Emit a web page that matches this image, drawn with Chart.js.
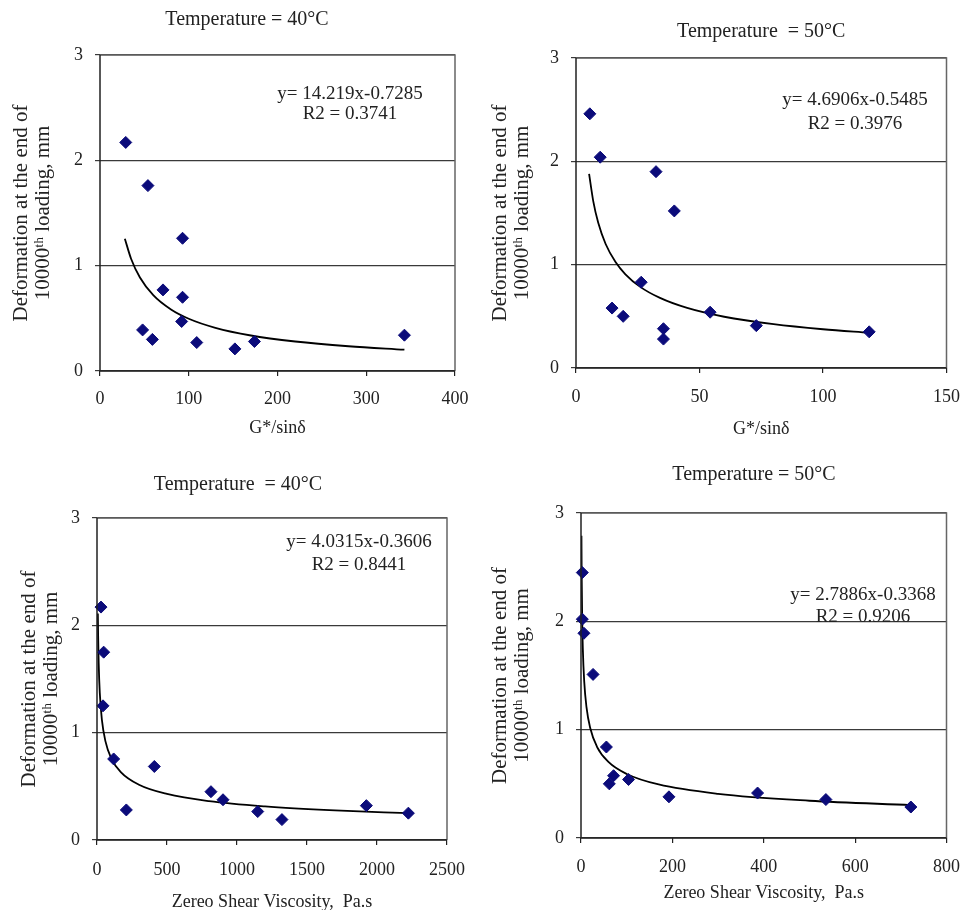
<!DOCTYPE html>
<html><head><meta charset="utf-8">
<script src="https://cdn.jsdelivr.net/npm/chart.js@4.4.1/dist/chart.umd.min.js"></script>
<style>
html,body{margin:0;padding:0;background:#fff;overflow:hidden;}
#wrap{position:relative;width:973px;height:910px;background:#fff;}
canvas{position:absolute;}
</style></head><body>
<div id="wrap">
<canvas id="c1" width="486" height="455" style="left:0px;top:0px"></canvas>
<canvas id="c2" width="486" height="455" style="left:487px;top:0px"></canvas>
<canvas id="c3" width="486" height="455" style="left:0px;top:455px"></canvas>
<canvas id="c4" width="486" height="455" style="left:487px;top:455px"></canvas>
</div>
<script>
// ---------- data ----------
const yTickValues = [0, 1, 2, 3];
const yTitleLines = ['Deformation at the end of', '10000ᵗʰ loading, mm'];

// Panel 1: G*/sin(delta), 40 C
const p1Title = 'Temperature = 40°C';
const p1XTitle = 'G*/sinδ';
const p1XTicks = [0, 100, 200, 300, 400];
const p1X = [29, 54, 93, 71, 93, 92, 48, 59, 109, 152, 174, 343];
const p1Y = [2.17, 1.76, 1.26, 0.77, 0.70, 0.47, 0.39, 0.30, 0.27, 0.21, 0.28, 0.34];
const p1TrendX = [28, 35, 45, 60, 80, 100, 130, 170, 220, 280, 343];
const p1TrendY = [1.256, 1.066, 0.888, 0.720, 0.584, 0.496, 0.410, 0.337, 0.280, 0.235, 0.202];
const p1Eq = ['y= 14.219x-0.7285', 'R2 = 0.3741'];

// Panel 2: G*/sin(delta), 50 C
const p2Title = 'Temperature  = 50°C';
const p2XTitle = 'G*/sinδ';
const p2XTicks = [0, 50, 100, 150];
const p2X = [5.6, 9.8, 32.4, 39.8, 26.4, 14.6, 19.1, 35.4, 35.4, 54.3, 73.0, 118.7];
const p2Y = [2.46, 2.04, 1.90, 1.52, 0.83, 0.58, 0.50, 0.38, 0.28, 0.54, 0.41, 0.35];
const p2TrendX = [5.3, 7, 9, 12, 16, 20, 26, 34, 45, 60, 80, 100, 118.7];
const p2TrendY = [1.879, 1.613, 1.405, 1.200, 1.025, 0.907, 0.785, 0.678, 0.581, 0.496, 0.424, 0.375, 0.341];
const p2Eq = ['y= 4.6906x-0.5485', 'R2 = 0.3976'];

// Panel 3: zero shear viscosity, 40 C
const p3Title = 'Temperature  = 40°C';
const p3XTitle = 'Zereo Shear Viscosity,  Pa.s';
const p3XTicks = [0, 500, 1000, 1500, 2000, 2500];
const p3X = [28.6, 47.6, 42.9, 119, 209.5, 409.5, 814, 900, 1148, 1321, 1924, 2224];
const p3Y = [2.17, 1.75, 1.25, 0.755, 0.28, 0.685, 0.45, 0.375, 0.265, 0.19, 0.32, 0.25];
const p3TrendX = [6, 8, 12, 20, 35, 60, 100, 170, 300, 500, 800, 1200, 1700, 2224];
const p3TrendY = [2.11, 1.905, 1.646, 1.369, 1.119, 0.921, 0.766, 0.633, 0.515, 0.429, 0.362, 0.313, 0.276, 0.250];
const p3Eq = ['y= 4.0315x-0.3606', 'R2 = 0.8441'];

// Panel 4: zero shear viscosity, 50 C
const p4Title = 'Temperature = 50°C';
const p4XTitle = 'Zereo Shear Viscosity,  Pa.s';
const p4XTicks = [0, 200, 400, 600, 800];
const p4X = [2.9, 2.9, 6.4, 26.4, 55.6, 62, 71.3, 104.1, 192.5, 386.5, 536, 722];
const p4Y = [2.45, 2.02, 1.89, 1.51, 0.84, 0.50, 0.575, 0.54, 0.38, 0.415, 0.355, 0.286];
const p4TrendX = [1, 1.5, 2.5, 4, 7, 12, 20, 35, 60, 100, 170, 300, 500, 722];
const p4TrendY = [2.789, 2.432, 2.048, 1.748, 1.448, 1.208, 1.017, 0.842, 0.702, 0.591, 0.494, 0.408, 0.344, 0.304];
const p4Eq = ['y= 2.7886x-0.3368', 'R2 = 0.9206'];

// ---------- rendering ----------
const FONT = "'Liberation Serif', 'Times New Roman', serif";
const TXT = '#222';

const framePlugin = {
  id: 'frameEq',
  beforeDatasetsDraw(chart, args, opts) {
    const ctx = chart.ctx;
    ctx.save();
    ctx.font = opts.eqSize + 'px ' + FONT;
    ctx.fillStyle = TXT;
    ctx.textAlign = 'center';
    ctx.textBaseline = 'middle';
    opts.lines.forEach((t, i) => ctx.fillText(t, opts.eqX, opts.eqY[i]));
    ctx.restore();
  },
  afterDraw(chart) {
    const ca = chart.chartArea, ctx = chart.ctx;
    ctx.save();
    ctx.strokeStyle = '#666';
    ctx.lineWidth = 1.5;
    ctx.beginPath();
    ctx.moveTo(ca.left, ca.top); ctx.lineTo(ca.right, ca.top); ctx.lineTo(ca.right, ca.bottom);
    ctx.stroke();
    ctx.strokeStyle = '#222';
    ctx.beginPath();
    ctx.moveTo(ca.left, ca.top); ctx.lineTo(ca.left, ca.bottom); ctx.lineTo(ca.right, ca.bottom);
    ctx.stroke();
    ctx.restore();
  }
};

function pts(xs, ys) { return xs.map((x, i) => ({x: x, y: ys[i]})); }

function makeChart(id, d, g) {
  new Chart(document.getElementById(id), {
    type: 'scatter',
    data: {
      datasets: [
        {
          label: 'measured',
          data: pts(d.x, d.y),
          pointStyle: 'rectRot',
          pointRadius: 6,
          pointHoverRadius: 6,
          backgroundColor: '#0b0b7a',
          borderColor: '#0b0b7a',
          borderWidth: 1,
          clip: false,
          order: 1
        },
        {
          label: 'power trend',
          data: pts(d.tx, d.ty),
          showLine: true,
          pointRadius: 0,
          borderColor: '#000',
          borderWidth: 1.8,
          cubicInterpolationMode: 'monotone',
          fill: false,
          order: 2
        }
      ]
    },
    options: {
      responsive: false,
      animation: false,
      devicePixelRatio: 1,
      layout: {padding: {left: g.pl, right: g.pr, top: 0, bottom: 0}},
      plugins: {
        legend: {display: false},
        tooltip: {enabled: false},
        title: {
          display: true,
          text: d.title,
          color: TXT,
          fullSize: g.fullTitle,
          font: {family: FONT, size: 20, weight: 'normal', lineHeight: 1.2},
          padding: {top: g.tpt, bottom: g.tpb}
        },
        frameEq: {lines: d.eq, eqX: g.eqX, eqY: g.eqY, eqSize: 19}
      },
      scales: {
        x: {
          type: 'linear',
          min: d.xt[0],
          max: d.xt[d.xt.length - 1],
          afterBuildTicks: s => { s.ticks = d.xt.map(v => ({value: v})); },
          afterFit: s => { s.height = g.xh; },
          border: {display: false},
          grid: {display: true, drawOnChartArea: false, drawTicks: true, tickLength: 5, color: '#222', lineWidth: 1.2},
          ticks: {autoSkip: false, maxRotation: 0, padding: g.xtp, color: TXT, callback: v => String(v), font: {family: FONT, size: 18, lineHeight: 1.2}},
          title: {display: true, text: d.xTitle, color: TXT, font: {family: FONT, size: 18, lineHeight: 1.2}, padding: {top: 0, bottom: g.xttb}}
        },
        y: {
          type: 'linear',
          min: 0,
          max: 3,
          afterBuildTicks: s => { s.ticks = yTickValues.map(v => ({value: v})); },
          afterFit: s => { s.width = g.yw; },
          border: {display: false},
          grid: {display: true, drawOnChartArea: true, drawTicks: true, tickLength: 5, color: '#3a3a3a', lineWidth: 1.2},
          ticks: {autoSkip: false, padding: 12, color: TXT, callback: v => String(v), font: {family: FONT, size: 18, lineHeight: 1.2}},
          title: {display: true, text: yTitleLines, color: TXT, font: {family: FONT, size: 21, lineHeight: 1.05}, padding: {top: g.ytp, bottom: 0}}
        }
      }
    },
    plugins: [framePlugin]
  });
}

makeChart('c1',
  {title: p1Title, xTitle: p1XTitle, xt: p1XTicks, x: p1X, y: p1Y, tx: p1TrendX, ty: p1TrendY, eq: p1Eq},
  {fullTitle: true, pl: 39, pr: 31, yw: 61, xh: 84, tpt: 8, tpb: 23, ytp: -29, xtp: 12, xttb: 16, eqX: 350, eqY: [94, 114]});
makeChart('c2',
  {title: p2Title, xTitle: p2XTitle, xt: p2XTicks, x: p2X, y: p2Y, tx: p2TrendX, ty: p2TrendY, eq: p2Eq},
  {fullTitle: false, pl: 40, pr: 20, yw: 49, xh: 87, tpt: 20, tpb: 14, ytp: -38, xtp: 13, xttb: 15, eqX: 368, eqY: [100, 124]});
makeChart('c3',
  {title: p3Title, xTitle: p3XTitle, xt: p3XTicks, x: p3X, y: p3Y, tx: p3TrendX, ty: p3TrendY, eq: p3Eq},
  {fullTitle: true, pl: 29, pr: 39, yw: 68, xh: 70, tpt: 18, tpb: 21, ytp: -11, xtp: 14, xttb: -3, eqX: 359, eqY: [87, 110]});
makeChart('c4',
  {title: p4Title, xTitle: p4XTitle, xt: p4XTicks, x: p4X, y: p4Y, tx: p4TrendX, ty: p4TrendY, eq: p4Eq},
  {fullTitle: true, pl: 66, pr: 18, yw: 28, xh: 72, tpt: 8, tpb: 26, ytp: -64, xtp: 13, xttb: 6, eqX: 376, eqY: [140, 162]});
</script>
</body></html>
